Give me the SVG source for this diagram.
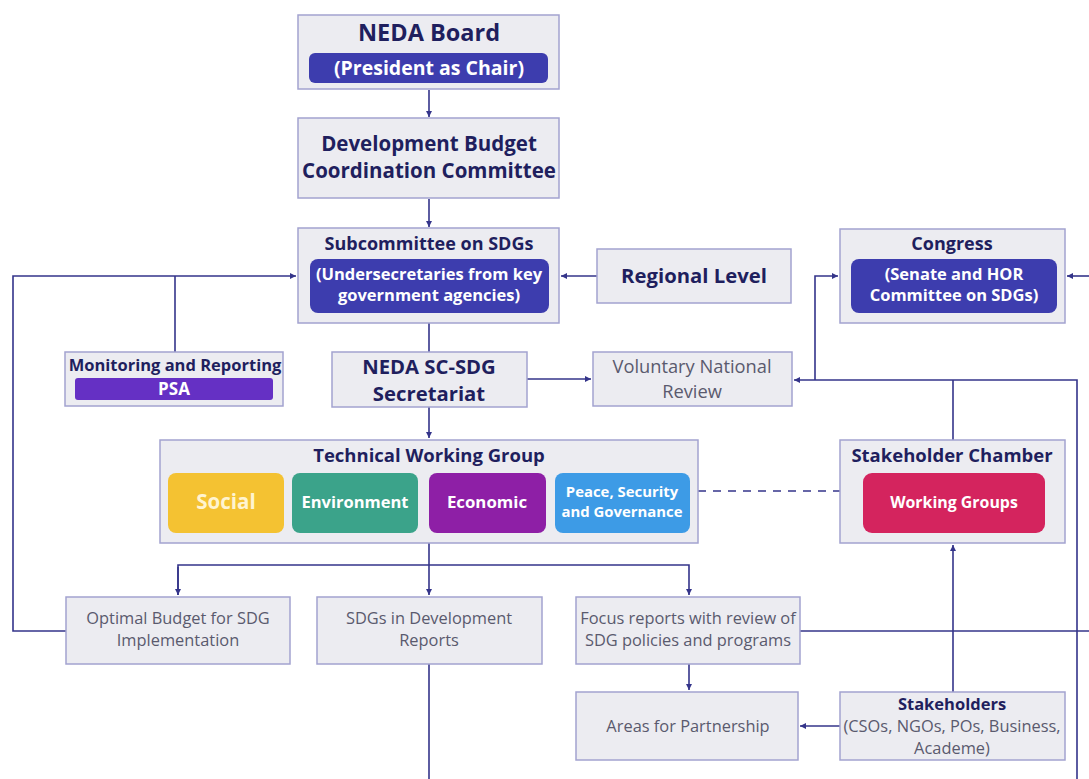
<svg xmlns="http://www.w3.org/2000/svg" width="1089" height="779" viewBox="0 0 1089 779">
<style>
.box{fill:#ECECF1;stroke:#A3A3CF;stroke-width:1.5}
.t{font-family:"Open Sans","Liberation Sans",sans-serif;text-anchor:middle}
.hb{font-weight:bold;fill:#1F1F5E}
.w{font-weight:bold;fill:#FFFFFF}
.g{fill:#5A5A6E}
.ln{fill:none;stroke:#34348A;stroke-width:1.6}
</style>
<defs>
<marker id="ah" markerWidth="8" markerHeight="8" refX="6" refY="4" orient="auto" markerUnits="userSpaceOnUse">
<path d="M0,1 L6,4 L0,7 Z" fill="#34348A"/>
</marker>
</defs>
<rect width="1089" height="779" fill="#FFFFFF"/>
<g id="connectors">
<line class="ln" x1="429" y1="90" x2="429" y2="117" marker-end="url(#ah)"/>
<line class="ln" x1="429" y1="199" x2="429" y2="227" marker-end="url(#ah)"/>
<line class="ln" x1="597" y1="276" x2="561" y2="276" marker-end="url(#ah)"/>
<polyline class="ln" points="66,631 13,631 13,276 296,276" marker-end="url(#ah)"/>
<line class="ln" x1="175" y1="276" x2="175" y2="352"/>
<line class="ln" x1="429" y1="323" x2="429" y2="352"/>
<line class="ln" x1="527" y1="379" x2="591" y2="379" marker-end="url(#ah)"/>
<polyline class="ln" points="1077,779 1077,380 794,380" marker-end="url(#ah)"/>
<polyline class="ln" points="815,380 815,276 838,276" marker-end="url(#ah)"/>
<line class="ln" x1="953" y1="380" x2="953" y2="440"/>
<line class="ln" x1="1089" y1="276" x2="1067" y2="276" marker-end="url(#ah)"/>
<line class="ln" x1="429" y1="407" x2="429" y2="438" marker-end="url(#ah)"/>
<line x1="698" y1="491" x2="840" y2="491" stroke="#34348A" stroke-width="1.4" stroke-dasharray="8,7"/>
<line class="ln" x1="429" y1="543" x2="429" y2="595" marker-end="url(#ah)"/>
<polyline class="ln" points="178,595 178,565 689,565 689,595" marker-end="url(#ah)"/>
<line class="ln" x1="178" y1="567" x2="178" y2="595" marker-end="url(#ah)"/>
<line class="ln" x1="429" y1="664" x2="429" y2="779"/>
<line class="ln" x1="689" y1="664" x2="689" y2="690" marker-end="url(#ah)"/>
<line class="ln" x1="800" y1="631" x2="1089" y2="631"/>
<line class="ln" x1="840" y1="726" x2="800" y2="726" marker-end="url(#ah)"/>
<line class="ln" x1="953" y1="692" x2="953" y2="545" marker-end="url(#ah)"/>
</g>
<g id="neda-board">
<rect class="box" x="298" y="15" width="261" height="74"/>
<text class="t hb" x="429" y="41" font-size="23.5">NEDA Board</text>
<rect x="309" y="53" width="239" height="30" rx="6" fill="#3D3DAE"/>
<text class="t w" x="429" y="75" font-size="19.5">(President as Chair)</text>
</g>
<g id="dbcc">
<rect class="box" x="298" y="118" width="261" height="80"/>
<text class="t hb" x="429" y="151" font-size="20.5">Development Budget</text>
<text class="t hb" x="429" y="178" font-size="20.5">Coordination Committee</text>
</g>
<g id="subcommittee">
<rect class="box" x="298" y="228" width="261" height="95"/>
<text class="t hb" x="429" y="250" font-size="18">Subcommittee on SDGs</text>
<rect x="310" y="259" width="239" height="54" rx="8" fill="#3D3DAE"/>
<text class="t w" x="429" y="280" font-size="16.5">(Undersecretaries from key</text>
<text class="t w" x="429" y="301" font-size="16.5">government agencies)</text>
</g>
<g id="regional">
<rect class="box" x="597" y="249" width="194" height="54"/>
<text class="t hb" x="694" y="283" font-size="20.3">Regional Level</text>
</g>
<g id="congress">
<rect class="box" x="840" y="229" width="225" height="94"/>
<text class="t hb" x="952" y="250" font-size="18">Congress</text>
<rect x="851" y="259" width="206" height="54" rx="8" fill="#3D3DAE"/>
<text class="t w" x="954" y="280" font-size="16.5">(Senate and HOR</text>
<text class="t w" x="954" y="301" font-size="16.5">Committee on SDGs)</text>
</g>
<g id="monitoring">
<rect class="box" x="65" y="352" width="218" height="54"/>
<text class="t hb" x="175" y="371" font-size="16.5">Monitoring and Reporting</text>
<rect x="75" y="378" width="198" height="22" rx="3" fill="#6530C4"/>
<text class="t w" x="174" y="395" font-size="17">PSA</text>
</g>
<g id="secretariat">
<rect class="box" x="332" y="352" width="195" height="55"/>
<text class="t hb" x="429" y="374" font-size="20.3">NEDA SC-SDG</text>
<text class="t hb" x="429" y="401" font-size="20.3">Secretariat</text>
</g>
<g id="vnr">
<rect class="box" x="593" y="352" width="199" height="54"/>
<text class="t g" x="692" y="373" font-size="18.3">Voluntary National</text>
<text class="t g" x="692" y="398" font-size="18.3">Review</text>
</g>
<g id="twg">
<rect class="box" x="160" y="440" width="538" height="103"/>
<text class="t hb" x="429" y="462" font-size="18.5">Technical Working Group</text>
<rect x="168" y="473" width="116" height="60" rx="8" fill="#F4C232"/>
<text class="t" x="226" y="509" font-size="20.5" font-weight="bold" fill="#FFF4D0">Social</text>
<rect x="292" y="473" width="126" height="60" rx="8" fill="#3BA38A"/>
<text class="t w" x="355" y="508" font-size="16.5">Environment</text>
<rect x="429" y="473" width="117" height="60" rx="8" fill="#8E1FA6"/>
<text class="t w" x="487" y="508" font-size="16.8">Economic</text>
<rect x="555" y="473" width="135" height="60" rx="8" fill="#3D9BE6"/>
<text class="t w" x="622" y="497" font-size="14.9">Peace, Security</text>
<text class="t w" x="622" y="517" font-size="14.9">and Governance</text>
</g>
<g id="stakeholder-chamber">
<rect class="box" x="840" y="440" width="225" height="103"/>
<text class="t hb" x="952" y="462" font-size="18.5">Stakeholder Chamber</text>
<rect x="863" y="473" width="182" height="60" rx="9" fill="#D4245E"/>
<text class="t w" x="954" y="508" font-size="15.9">Working Groups</text>
</g>
<g id="optimal-budget">
<rect class="box" x="66" y="597" width="224" height="67"/>
<text class="t g" x="178" y="624" font-size="16.4">Optimal Budget for SDG</text>
<text class="t g" x="178" y="646" font-size="16.4">Implementation</text>
</g>
<g id="sdgs-dev-reports">
<rect class="box" x="317" y="597" width="225" height="67"/>
<text class="t g" x="429" y="624" font-size="16.4">SDGs in Development</text>
<text class="t g" x="429" y="646" font-size="16.4">Reports</text>
</g>
<g id="focus-reports">
<rect class="box" x="576" y="597" width="224" height="67"/>
<text class="t g" x="688" y="624" font-size="16.4">Focus reports with review of</text>
<text class="t g" x="688" y="646" font-size="16.4">SDG policies and programs</text>
</g>
<g id="areas-partnership">
<rect class="box" x="576" y="692" width="222" height="68"/>
<text class="t g" x="688" y="732" font-size="16.4">Areas for Partnership</text>
</g>
<g id="stakeholders">
<rect class="box" x="840" y="692" width="225" height="68"/>
<text class="t hb" x="952" y="710" font-size="16.5">Stakeholders</text>
<text class="t g" x="952" y="732" font-size="16.4">(CSOs, NGOs, POs, Business,</text>
<text class="t g" x="952" y="754" font-size="16.4">Academe)</text>
</g>
</svg>
